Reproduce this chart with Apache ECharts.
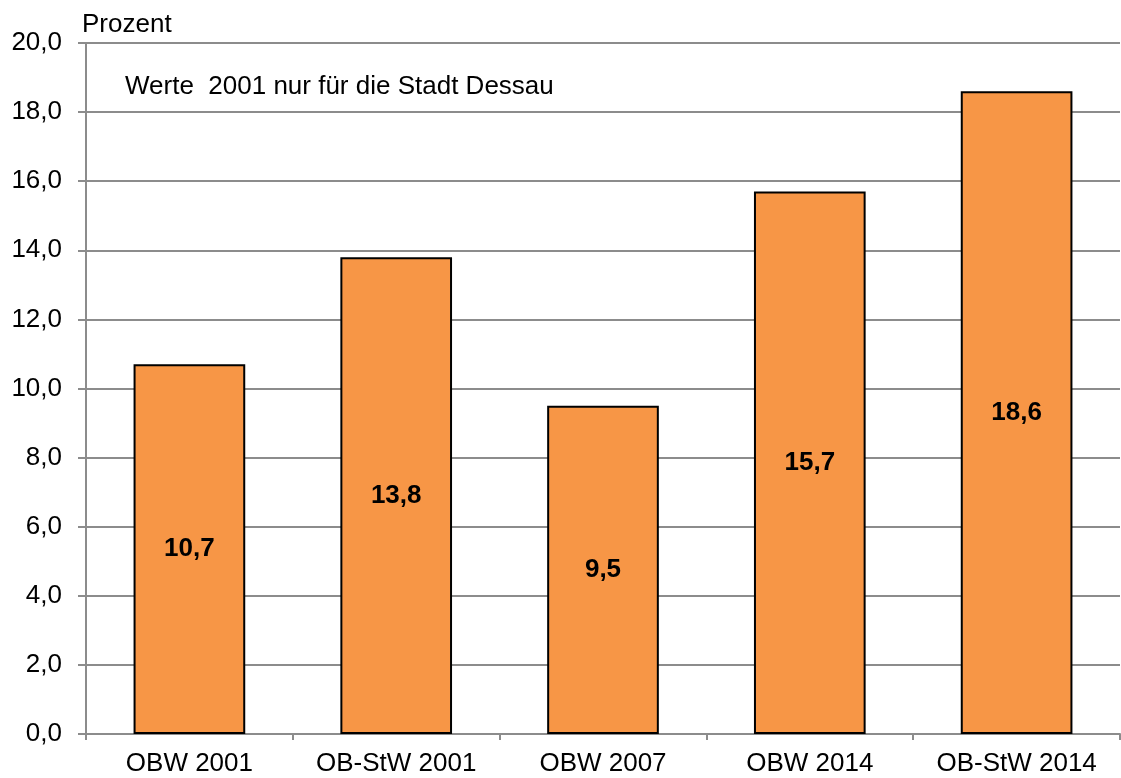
<!DOCTYPE html>
<html>
<head>
<meta charset="utf-8">
<script src="https://cdn.jsdelivr.net/npm/echarts@6/dist/echarts.min.js"></script>
<style>
  html, body { margin: 0; padding: 0; background: #fff; }
  #chart { width: 1121px; height: 778px; }
</style>
</head>
<body>
<div id="chart"></div>
<script>
// Kategorien und Werte (Prozent)
const categories = ['OBW 2001', 'OB-StW 2001', 'OBW 2007', 'OBW 2014', 'OB-StW 2014']
const values = [10.7, 13.8, 9.5, 15.7, 18.6]

const fmt = (v) => v.toFixed(1).replace('.', ',')
const FONT = 'Liberation Sans, Arial, sans-serif'

const chart = echarts.init(document.getElementById('chart'))

chart.setOption({
  backgroundColor: '#fff',
  animation: false,
  textStyle: { fontFamily: FONT },
  grid: { left: 86, right: 1, top: 43, bottom: 44 },
  graphic: [
    {
      type: 'text',
      left: 82,
      top: 12,
      style: { text: 'Prozent', fontSize: 26, fill: '#000', fontFamily: FONT }
    },
    {
      type: 'text',
      left: 125,
      top: 74,
      style: { text: 'Werte  2001 nur für die Stadt Dessau', fontSize: 26, fill: '#000', fontFamily: FONT }
    }
  ],
  xAxis: {
    type: 'category',
    data: categories,
    axisLine: { lineStyle: { color: '#8c8c8c', width: 2 } },
    axisTick: { show: true, interval: 0, length: 6, lineStyle: { color: '#8c8c8c', width: 2 } },
    axisLabel: { color: '#000', fontSize: 26, margin: 17, interval: 0 }
  },
  yAxis: {
    type: 'value',
    min: 0,
    max: 20,
    interval: 2,
    axisLine: { show: true, lineStyle: { color: '#8c8c8c', width: 2 } },
    axisTick: { show: true, inside: false, length: 8, lineStyle: { color: '#8c8c8c', width: 2 } },
    axisLabel: { color: '#000', fontSize: 26, margin: 24, formatter: fmt },
    splitLine: { lineStyle: { color: '#8c8c8c', width: 2 } }
  },
  series: [
    {
      type: 'bar',
      data: values,
      barWidth: '54%',
      itemStyle: { color: '#f79646', borderColor: '#000', borderWidth: 2 },
      label: {
        show: true,
        position: 'inside',
        color: '#000',
        fontSize: 26,
        fontWeight: 'bold',
        formatter: (p) => fmt(p.value)
      }
    }
  ]
})
</script>
</body>
</html>
